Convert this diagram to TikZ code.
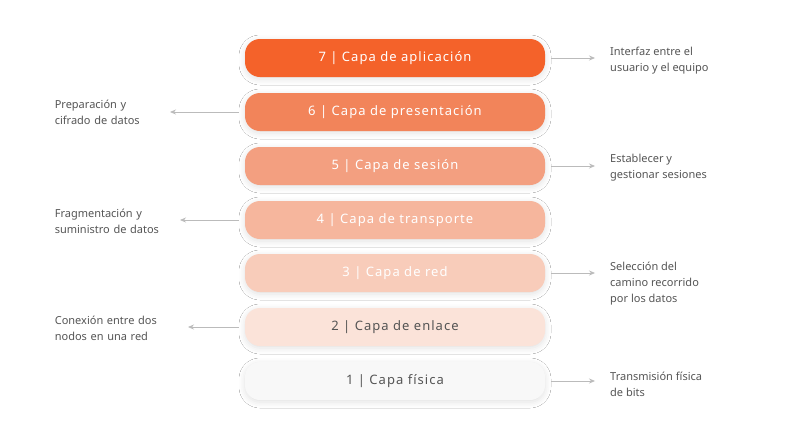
\documentclass[tikz,border=0pt]{standalone}
\usepackage{fontspec}
\setmainfont{Noto Sans}
\newfontfamily\spaced[LetterSpace=8]{Noto Sans}
\usetikzlibrary{arrows.meta,shadows.blur}
\definecolor{c7}{HTML}{F4622A}
\definecolor{c6}{HTML}{F2845A}
\definecolor{c5}{HTML}{F39F80}
\definecolor{c4}{HTML}{F6B69D}
\definecolor{c3}{HTML}{F8CCBA}
\definecolor{c2}{HTML}{FBE3D9}
\definecolor{c1}{HTML}{F8F8F8}
\definecolor{tx}{HTML}{555555}
\definecolor{ar}{HTML}{BBBBBB}
\tikzset{
 pill/.style={rounded corners=15pt,minimum width=300pt,minimum height=38pt,inner sep=0pt,
   font=\spaced\bfseries\fontsize{13}{15}\selectfont,blur shadow={shadow xshift=0pt,shadow yshift=-2pt,shadow blur radius=6pt,shadow opacity=12}},
 lab/.style={font=\fontsize{11}{16}\selectfont,text=tx,align=left,inner sep=0pt},
 arr/.style={draw=ar,line width=0.8pt,-{Stealth[length=6pt,width=5pt]}}
}
\begin{document}
\begin{tikzpicture}[x=1pt,y=-1pt]
\useasboundingbox[fill=white] (0,0) rectangle (792,440);
\node[pill,fill=c7,text=white] (p7) at (395,58) {7 | Capa de aplicación};
\node[pill,fill=c6,text=white] (p6) at (395,112) {6 | Capa de presentación};
\node[pill,fill=c5,text=white] (p5) at (395,166) {5 | Capa de sesión};
\node[pill,fill=c4,text=white] (p4) at (395,220) {4 | Capa de transporte};
\node[pill,fill=c3,text=white] (p3) at (395,273) {3 | Capa de red};
\node[pill,fill=c2,text=tx] (p2) at (395,327) {2 | Capa de enlace};
\node[pill,fill=c1,text=tx] (p1) at (395,381) {1 | Capa física};
\node[lab,anchor=west] (t7) at (610,61) {Interfaz entre el\\usuario y el equipo};
\node[lab,anchor=east,text width=115pt] (t6) at (170,112) {Preparación y\\cifrado de datos};
\node[lab,anchor=west] (t5) at (610,168) {Establecer y\\gestionar sesiones};
\node[lab,anchor=east,text width=125pt] (t4) at (180,221) {Fragmentación y\\suministro de datos};
\node[lab,anchor=west] (t3) at (610,284) {Selección del\\camino recorrido\\por los datos};
\node[lab,anchor=east,text width=125pt] (t2) at (180,328) {Conexión entre dos\\nodos en una red};
\node[lab,anchor=west] (t1) at (610,384) {Transmisión física\\de bits};
\coordinate (a7) at (595,58); \coordinate (a6) at (170,112); \coordinate (a5) at (595,166);
\coordinate (a4) at (180,220); \coordinate (a3) at (595,273); \coordinate (a2) at (188,327); \coordinate (a1) at (595,381);
\draw[arr] (p7.east)++(6,0) -- (a7);
\draw[arr] (p5.east)++(6,0) -- (a5);
\draw[arr] (p3.east)++(6,0) -- (a3);
\draw[arr] (p1.east)++(6,0) -- (a1);
\draw[arr] (p6.west)++(-6,0) -- (a6);
\draw[arr] (p4.west)++(-6,0) -- (a4);
\draw[arr] (p2.west)++(-6,0) -- (a2);
\end{tikzpicture}
\end{document}
